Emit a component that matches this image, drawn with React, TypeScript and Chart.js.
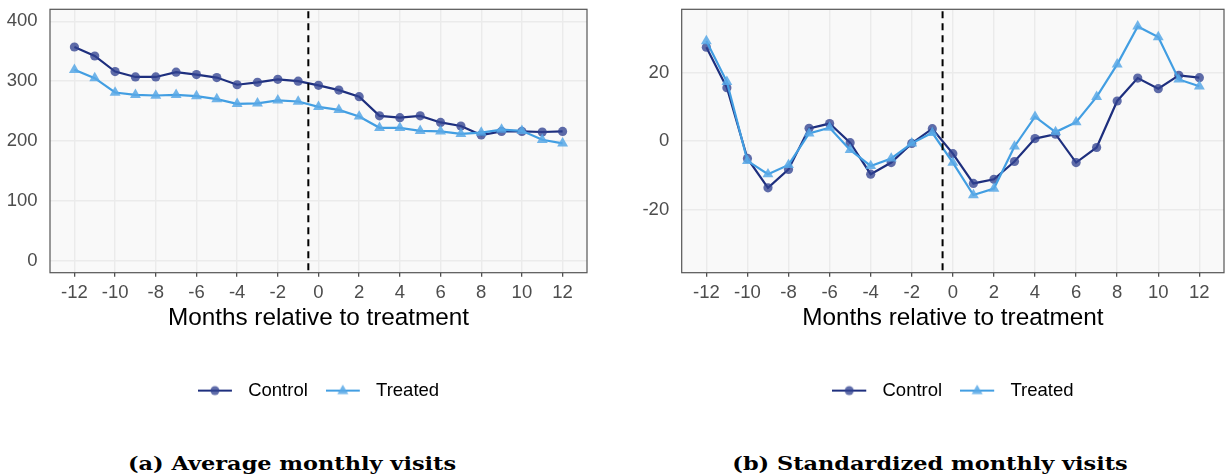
import React, { useEffect, useRef } from "react";
import { Chart, registerables } from "chart.js";

Chart.register(...registerables);

// ---------- data ----------
const months = [-12, -11, -10, -9, -8, -7, -6, -5, -4, -3, -2, -1, 0, 1, 2, 3, 4, 5, 6, 7, 8, 9, 10, 11, 12];
const xTicks = [-12, -10, -8, -6, -4, -2, 0, 2, 4, 6, 8, 10, 12];
const seriesLabels = ["Control", "Treated"];
const xTitle = "Months relative to treatment";
const treatmentLine = -0.5;

const avgControl = [357, 342, 316, 307, 307, 315, 311, 306, 294, 298, 303, 300, 293, 285, 274, 242, 239, 242, 231, 225, 210, 216, 216, 215, 216];
const avgTreated = [319, 305, 281, 277, 276, 277, 275, 270, 262, 263, 268, 266, 257, 252, 241, 222, 222, 217, 216, 212, 214, 219, 217, 202, 196];
const avgYTicks = [0, 100, 200, 300, 400];

const stdControl = [27.4, 15.6, -5.1, -13.7, -8.3, 3.7, 5.1, -0.5, -9.7, -6.3, -0.7, 3.6, -3.7, -12.4, -11.2, -6.0, 0.7, 2.0, -6.3, -1.9, 11.7, 18.4, 15.3, 19.2, 18.5];
const stdTreated = [29.2, 17.3, -5.8, -9.7, -7.0, 2.2, 3.9, -2.6, -7.3, -5.1, -0.7, 2.4, -6.3, -15.8, -13.9, -1.6, 7.1, 2.6, 5.5, 12.9, 22.4, 33.5, 30.4, 18.0, 16.0];
const stdYTicks = [-20, 0, 20];

const captionA = "(a) Average monthly visits";
const captionB = "(b) Standardized monthly visits";

// ---------- styles ----------
const SANS = "'Liberation Sans', Arial, Helvetica, sans-serif";
const CONTROL_LINE = "#1e2f7e";
const CONTROL_POINT = "rgba(50, 66, 145, 0.78)";
const TREATED_LINE = "#429ee2";
const TREATED_POINT = "rgba(88, 168, 230, 0.85)";
const GRID = "#ebebeb";
const PANEL_BG = "#f9f9f9";

function makeIcon(line: string, fill: string, shape: "circle" | "triangle") {
  const c = document.createElement("canvas");
  c.width = 41;
  c.height = 16;
  const ctx = c.getContext("2d")!;
  ctx.strokeStyle = line;
  ctx.lineWidth = 2.2;
  ctx.beginPath();
  ctx.moveTo(0, 8);
  ctx.lineTo(34, 8);
  ctx.stroke();
  ctx.fillStyle = fill;
  ctx.beginPath();
  if (shape === "circle") {
    ctx.arc(17, 8, 4.5, 0, Math.PI * 2);
  } else {
    ctx.moveTo(17, 2);
    ctx.lineTo(22.5, 11.5);
    ctx.lineTo(11.5, 11.5);
    ctx.closePath();
  }
  ctx.fill();
  return c;
}

const panelPlugin = {
  id: "panelDecor",
  beforeDraw(chart: any) {
    const { ctx, chartArea: a } = chart;
    ctx.save();
    ctx.fillStyle = PANEL_BG;
    ctx.fillRect(a.left, a.top, a.right - a.left, a.bottom - a.top);
    ctx.restore();
  },
  afterDatasetsDraw(chart: any) {
    const { ctx, chartArea: a } = chart;
    const x = chart.scales.x.getPixelForValue(treatmentLine);
    ctx.save();
    ctx.strokeStyle = "#000";
    ctx.lineWidth = 2;
    ctx.setLineDash([7, 5]);
    ctx.beginPath();
    ctx.moveTo(x, a.top + 2);
    ctx.lineTo(x, a.bottom);
    ctx.stroke();
    ctx.restore();
  },
  afterDraw(chart: any) {
    const { ctx, chartArea: a } = chart;
    ctx.save();
    ctx.strokeStyle = "#555";
    ctx.lineWidth = 1.2;
    ctx.strokeRect(a.left, a.top, a.right - a.left, a.bottom - a.top);
    ctx.restore();
  },
};

type PanelProps = {
  left: number;
  width: number;
  height: number;
  chartLeft: number;
  chartRight: number;
  chartTop: number;
  chartBottom: number;
  yMin: number;
  yMax: number;
  yTicks: number[];
  control: number[];
  treated: number[];
};

function Panel(p: PanelProps) {
  const ref = useRef<HTMLCanvasElement>(null);
  useEffect(() => {
    if (!ref.current) return;
    const fontSize = 18.5;
    const legendPad = 18;
    const legendH = fontSize + legendPad + 10;
    const legendCenter = 390.6;
    const scaleBottom = legendCenter - legendPad - fontSize / 2;
    const titleSize = 24.3;
    const titleMid = 318;
    const titleBottomPad = scaleBottom - (titleSize * 1.2) / 2 - titleMid;
    const xScaleH = scaleBottom - p.chartBottom;
    const padBottom = p.height - scaleBottom - legendH;

    const icons = [makeIcon(CONTROL_LINE, CONTROL_POINT, "circle"), makeIcon(TREATED_LINE, TREATED_POINT, "triangle")];

    const chart = new Chart(ref.current, {
      type: "line",
      data: {
        labels: months,
        datasets: [
          {
            label: seriesLabels[0],
            data: months.map((m, i) => ({ x: m, y: p.control[i] })),
            borderColor: CONTROL_LINE,
            borderWidth: 2.2,
            pointRadius: 4.6,
            pointStyle: "circle",
            pointBackgroundColor: CONTROL_POINT,
            pointBorderWidth: 0,
            tension: 0,
            order: 2,
          },
          {
            label: seriesLabels[1],
            data: months.map((m, i) => ({ x: m, y: p.treated[i] })),
            borderColor: TREATED_LINE,
            borderWidth: 2.2,
            pointRadius: 6.3,
            pointStyle: "triangle",
            pointBackgroundColor: TREATED_POINT,
            pointBorderWidth: 0,
            tension: 0,
            order: 1,
          },
        ],
      },
      options: {
        animation: false,
        responsive: false,
        devicePixelRatio: 1,
        layout: {
          autoPadding: false,
          padding: { left: 0, top: p.chartTop, right: p.width - p.chartRight, bottom: padBottom },
        },
        scales: {
          x: {
            type: "linear",
            min: -13.2,
            max: 13.2,
            afterBuildTicks: (s: any) => {
              s.ticks = xTicks.map((v) => ({ value: v }));
            },
            afterFit: (s: any) => {
              s.height = xScaleH;
              s.paddingLeft = 0;
              s.paddingRight = 0;
              s.paddingTop = 0;
              s.paddingBottom = 0;
            },
            grid: { color: GRID, lineWidth: 1.4, drawTicks: true, tickLength: 4, tickColor: "#333", tickWidth: 1.1 },
            border: { display: false },
            ticks: {
              color: "#4d4d4d",
              font: { family: SANS, size: fontSize },
              padding: 5,
              maxRotation: 0,
              autoSkip: false,
              callback: (v: any) => String(v),
            },
            title: {
              display: true,
              text: xTitle,
              color: "#000",
              font: { family: SANS, size: titleSize },
              padding: { top: 0, bottom: titleBottomPad },
            },
          },
          y: {
            type: "linear",
            min: p.yMin,
            max: p.yMax,
            afterBuildTicks: (s: any) => {
              s.ticks = p.yTicks.map((v) => ({ value: v }));
            },
            afterFit: (s: any) => {
              s.width = p.chartLeft;
              s.paddingTop = 0;
              s.paddingBottom = 0;
              s.paddingLeft = 0;
              s.paddingRight = 0;
            },
            grid: { color: GRID, lineWidth: 1.4, drawTicks: false },
            border: { display: false },
            ticks: {
              color: "#4d4d4d",
              font: { family: SANS, size: fontSize },
              padding: 12.5,
              autoSkip: false,
              callback: (v: any) => String(v),
            },
          },
        },
        plugins: {
          tooltip: { enabled: false },
          title: { display: false },
          legend: {
            display: true,
            position: "bottom",
            fullSize: false,
            align: "center",
            onClick: () => {},
            labels: {
              usePointStyle: true,
              pointStyleWidth: 41,
              padding: legendPad,
              color: "#000",
              font: { family: SANS, size: fontSize },
              generateLabels: () =>
                seriesLabels.map((t, i) => ({
                  text: t,
                  pointStyle: icons[i] as any,
                  fillStyle: "rgba(0,0,0,0)",
                  strokeStyle: "rgba(0,0,0,0)",
                  lineWidth: 0,
                  hidden: false,
                  datasetIndex: i,
                  fontColor: "#000",
                })),
            },
          },
        },
      } as any,
      plugins: [panelPlugin],
    });
    return () => chart.destroy();
  }, []);
  return (
    <canvas
      ref={ref}
      width={p.width}
      height={p.height}
      style={{ position: "absolute", left: p.left, top: 0, width: p.width, height: p.height }}
    />
  );
}

const captionStyle = (center: number): React.CSSProperties => ({
  position: "absolute",
  left: center - 300,
  width: 600,
  top: 454,
  textAlign: "center",
  fontFamily: "'DejaVu Serif', 'Liberation Serif', serif",
  fontWeight: "bold",
  fontSize: 19,
  lineHeight: "19px",
  whiteSpace: "nowrap",
  color: "#000",
  transform: "scaleX(1.18)",
  transformOrigin: "50% 50%",
});

export default function App() {
  return (
    <div style={{ position: "fixed", left: 0, top: 0, width: 1225, height: 476, background: "#fff", overflow: "hidden" }}>
      <Panel
        left={0}
        width={612}
        height={420}
        chartLeft={50}
        chartRight={587}
        chartTop={9.3}
        chartBottom={272.7}
        yMin={-20}
        yMax={420}
        yTicks={avgYTicks}
        control={avgControl}
        treated={avgTreated}
      />
      <Panel
        left={612}
        width={613}
        height={420}
        chartLeft={69.7}
        chartRight={612}
        chartTop={9.3}
        chartBottom={272.7}
        yMin={-38.5}
        yMax={38.5}
        yTicks={stdYTicks}
        control={stdControl}
        treated={stdTreated}
      />
      <div style={captionStyle(291.5)}>{captionA}</div>
      <div style={captionStyle(930)}>{captionB}</div>
    </div>
  );
}
